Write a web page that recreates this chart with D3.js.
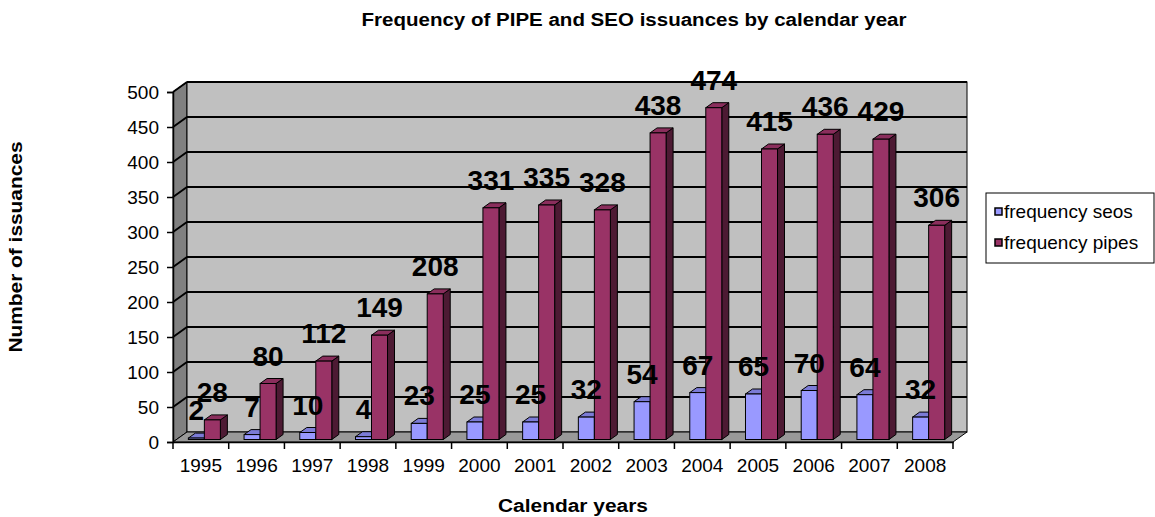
<!DOCTYPE html>
<html>
<head>
<meta charset="utf-8">
<script src="https://cdn.jsdelivr.net/npm/d3@7"></script>
<style>
  body { margin: 0; background: #fff; }
  svg { display: block; font-family: Arial, "Liberation Sans", sans-serif; }
</style>
</head>
<body>
<svg id="chart" width="1155" height="517"></svg>
<script>
const years = ['1995', '1996', '1997', '1998', '1999', '2000', '2001', '2002', '2003', '2004', '2005', '2006', '2007', '2008']
const seos = [2, 7, 10, 4, 23, 25, 25, 32, 54, 67, 65, 70, 64, 32]
const pipes = [28, 80, 112, 149, 208, 331, 335, 328, 438, 474, 415, 436, 429, 306]
const seriesNames = ['frequency seos', 'frequency pipes']
const yTicks = [0, 50, 100, 150, 200, 250, 300, 350, 400, 450, 500]

const colors = {
    seos: { front: '#9999ff', top: '#7b7bd6', side: '#4d4d80' },
    pipes: { front: '#993366', top: '#8a2e5c', side: '#4d1a33' }
}

const svg = d3.select('#chart')

// plot area (front plane) and depth offset of the 3d box
const plotLeft = 173, plotRight = 953, plotBottom = 442, plotTop = 92
const dx = 14, dy = -10

const x = d3.scaleBand().domain(years).range([plotLeft, plotRight]).padding(0)
const inner = d3.scaleBand().domain(['seos', 'pipes']).range([0, x.bandwidth()]).paddingInner(0).paddingOuter(0.74)
const y = d3.scaleLinear().domain([0, 500]).range([plotBottom, plotTop])

// side wall
svg.append('polygon')
    .attr('points', [[plotLeft, plotBottom], [plotLeft + dx, plotBottom + dy], [plotLeft + dx, plotTop + dy], [plotLeft, plotTop]].join(' '))
    .attr('fill', '#808080').attr('stroke', '#000').attr('stroke-width', 1)

// back wall
svg.append('rect')
    .attr('x', plotLeft + dx).attr('y', plotTop + dy)
    .attr('width', plotRight - plotLeft).attr('height', plotBottom - plotTop)
    .attr('fill', '#c0c0c0').attr('stroke', '#000').attr('stroke-width', 1)

// floor
svg.append('polygon')
    .attr('points', [[plotLeft, plotBottom], [plotRight, plotBottom], [plotRight + dx, plotBottom + dy], [plotLeft + dx, plotBottom + dy]].join(' '))
    .attr('fill', '#999999').attr('stroke', '#000').attr('stroke-width', 1)

// gridlines on wall + side
const grid = svg.append('g')
yTicks.filter(t => t > 0).forEach(t => {
    grid.append('line')
        .attr('x1', plotLeft + dx).attr('x2', plotRight + dx)
        .attr('y1', y(t) + dy).attr('y2', y(t) + dy)
        .attr('stroke', '#000').attr('stroke-width', 2)
    grid.append('line')
        .attr('x1', plotLeft).attr('x2', plotLeft + dx)
        .attr('y1', y(t)).attr('y2', y(t) + dy)
        .attr('stroke', '#000').attr('stroke-width', 2)
})

// y axis
const yAxis = svg.append('g')
    .attr('transform', 'translate(' + plotLeft + ',0)')
    .call(d3.axisLeft(y).tickValues(yTicks).tickSize(6).tickPadding(8))
yAxis.select('.domain').attr('stroke', '#000').attr('stroke-width', 1.5)
yAxis.selectAll('text').style('font-size', '19px').attr('fill', '#000')
yAxis.selectAll('line').attr('stroke-width', 1.5)

// x axis
const xAxis = svg.append('g')
    .attr('transform', 'translate(0,' + plotBottom + ')')
    .call(d3.axisBottom(x).tickSize(0).tickPadding(17))
xAxis.select('.domain').attr('stroke', '#000').attr('stroke-width', 1.5)
xAxis.selectAll('text').style('font-size', '19px').attr('fill', '#000')
xAxis.selectAll('.sep')
    .data(d3.range(years.length + 1))
    .enter()
    .append('line')
    .attr('x1', i => plotLeft + i * x.step()).attr('x2', i => plotLeft + i * x.step())
    .attr('y1', 0).attr('y2', 7)
    .attr('stroke', '#000').attr('stroke-width', 1.5)

// bars
const bx = dx / 4, by = dy / 4   // bars sit in the middle of the depth
const ddx = dx / 2, ddy = dy / 2
const barData = []
years.forEach((yr, i) => {
    barData.push({ year: yr, key: 'seos', value: seos[i] })
    barData.push({ year: yr, key: 'pipes', value: pipes[i] })
})

const bars = svg.append('g').selectAll('g')
    .data(barData)
    .enter()
    .append('g')

bars.each(function (d) {
    const g = d3.select(this)
    const x0 = x(d.year) + inner(d.key) + bx
    const w = inner.bandwidth()
    const y0 = y(0) + by
    const y1 = y(d.value) + by
    const c = colors[d.key]
    g.append('polygon')
        .attr('points', [[x0 + w, y1], [x0 + w + ddx, y1 + ddy], [x0 + w + ddx, y0 + ddy], [x0 + w, y0]].join(' '))
        .attr('fill', c.side).attr('stroke', '#000').attr('stroke-width', 1)
    g.append('polygon')
        .attr('points', [[x0, y1], [x0 + w, y1], [x0 + w + ddx, y1 + ddy], [x0 + ddx, y1 + ddy]].join(' '))
        .attr('fill', c.top).attr('stroke', '#000').attr('stroke-width', 1)
    g.append('rect')
        .attr('x', x0).attr('y', y1)
        .attr('width', w).attr('height', Math.max(0, y0 - y1))
        .attr('fill', c.front).attr('stroke', '#000').attr('stroke-width', 1)
})

// value labels
svg.append('g').selectAll('text')
    .data(barData)
    .enter()
    .append('text')
    .attr('x', d => x(d.year) + inner(d.key) + bx + inner.bandwidth() / 2)
    .attr('y', d => y(d.value) + by - 18)
    .attr('text-anchor', 'middle')
    .style('font-size', '28px')
    .style('font-weight', 'bold')
    .attr('fill', '#000')
    .text(d => d.value)

// title and axis titles (original font is wider, so stretch to measured length)
svg.append('text')
    .attr('x', 634).attr('y', 26)
    .attr('text-anchor', 'middle')
    .attr('textLength', 545).attr('lengthAdjust', 'spacingAndGlyphs')
    .style('font-size', '18px').style('font-weight', 'bold')
    .text('Frequency of PIPE and SEO issuances by calendar year')

svg.append('text')
    .attr('transform', 'translate(22,247) rotate(-90)')
    .attr('text-anchor', 'middle')
    .attr('textLength', 211).attr('lengthAdjust', 'spacingAndGlyphs')
    .style('font-size', '18px').style('font-weight', 'bold')
    .text('Number of issuances')

svg.append('text')
    .attr('x', 573).attr('y', 512)
    .attr('text-anchor', 'middle')
    .attr('textLength', 150).attr('lengthAdjust', 'spacingAndGlyphs')
    .style('font-size', '18px').style('font-weight', 'bold')
    .text('Calendar years')

// legend
const legend = svg.append('g')
legend.append('rect')
    .attr('x', 986).attr('y', 193).attr('width', 168).attr('height', 70)
    .attr('fill', '#fff').attr('stroke', '#000').attr('stroke-width', 1)
const legendItems = legend.selectAll('g')
    .data(seriesNames)
    .enter()
    .append('g')
    .attr('transform', (d, i) => 'translate(995,' + (208 + i * 31) + ')')
legendItems.append('rect')
    .attr('width', 7).attr('height', 7)
    .attr('fill', (d, i) => i === 0 ? colors.seos.front : colors.pipes.front)
    .attr('stroke', '#000').attr('stroke-width', 1.5)
legendItems.append('text')
    .attr('x', 9).attr('y', 10)
    .style('font-size', '19px')
    .text(d => d)
</script>
</body>
</html>
